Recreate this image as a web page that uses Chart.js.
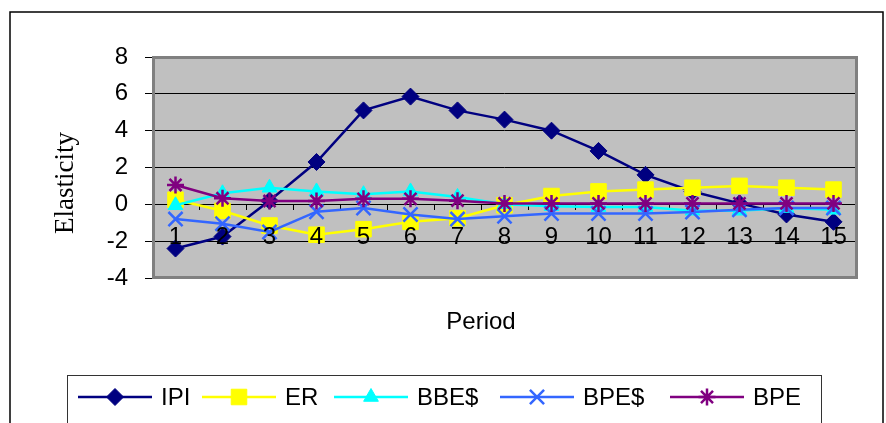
<!DOCTYPE html>
<html lang="en">
<head>
  <meta charset="UTF-8" />
  <title>Elasticity by Period</title>
  <script src="https://cdn.jsdelivr.net/npm/chart.js"></script>
  <style>
    html, body {
      margin: 0;
      padding: 0;
      background: #fff;
    }
    #wrap {
      width: 886px;
      height: 423px;
    }
  </style>
</head>
<body>
  <div id="wrap"><canvas id="elasticityChart" width="886" height="423"></canvas></div>

  <script>
    // values
    const periods = ['1', '2', '3', '4', '5', '6', '7', '8', '9', '10', '11', '12', '13', '14', '15'];
    const ipi = [-2.4, -1.75, 0.2, 2.3, 5.1, 5.85, 5.1, 4.6, 4.0, 2.9, 1.6, 0.7, 0.05, -0.55, -0.95];
    const er = [0.25, -0.35, -1.15, -1.65, -1.35, -0.95, -0.75, -0.05, 0.45, 0.7, 0.8, 0.9, 1.0, 0.9, 0.8];
    const bbeUsd = [-0.05, 0.6, 0.9, 0.7, 0.55, 0.7, 0.4, 0.0, -0.1, -0.15, -0.15, -0.35, -0.35, -0.2, -0.3];
    const bpeUsd = [-0.8, -1.05, -1.5, -0.4, -0.2, -0.55, -0.8, -0.65, -0.5, -0.5, -0.5, -0.42, -0.3, -0.2, -0.2];
    const bpe = [1.05, 0.33, 0.18, 0.18, 0.3, 0.3, 0.2, 0.05, 0.05, 0.05, 0.05, 0.05, 0.05, 0.05, 0.05];
    const yTitle = 'Elasticity';
    const xTitle = 'Period';

    const FONT = 'Arial, "Liberation Sans", sans-serif';

    function series(label, data, color, style, radius, order) {
      return {
        label: label,
        data: data,
        borderColor: color,
        backgroundColor: color,
        borderWidth: 2.5,
        pointStyle: style,
        pointRadius: radius,
        pointHoverRadius: radius,
        pointBorderColor: color,
        pointBackgroundColor: color,
        pointBorderWidth: (style === 'crossRot' || style === 'star') ? 2.5 : 1,
        tension: 0,
        fill: false,
        order: order
      };
    }

    // frame, grey plot area, titles and the Excel-like legend box
    const excelLook = {
      id: 'excelLook',
      beforeDraw(chart) {
        const { ctx, chartArea: a } = chart;
        ctx.save();
        ctx.fillStyle = '#fff';
        ctx.fillRect(0, 0, chart.width, chart.height);
        ctx.strokeStyle = '#000';
        ctx.lineWidth = 1.5;
        ctx.strokeRect(10, 12, 873, 440);
        ctx.fillStyle = '#c0c0c0';
        ctx.fillRect(a.left, a.top, a.right - a.left, a.bottom - a.top);
        ctx.restore();
      },
      beforeDatasetsDraw(chart) {
        const { ctx, chartArea: a } = chart;
        ctx.save();
        ctx.strokeStyle = '#808080';
        ctx.lineWidth = 3;
        ctx.strokeRect(a.left + 1.5, a.top + 0.5, a.right - a.left - 2, a.bottom - a.top - 1);
        ctx.restore();
      },
      afterDraw(chart) {
        const { ctx } = chart;
        ctx.save();
        ctx.fillStyle = '#000';
        // y title
        ctx.font = '27px "Liberation Serif", "Times New Roman", serif';
        ctx.textAlign = 'center';
        ctx.textBaseline = 'middle';
        ctx.translate(66, 183);
        ctx.rotate(-Math.PI / 2);
        ctx.fillText(yTitle, 0, 0);
        ctx.restore();

        ctx.save();
        ctx.fillStyle = '#000';
        ctx.font = '24px ' + FONT;
        ctx.textAlign = 'center';
        ctx.textBaseline = 'middle';
        ctx.fillText(xTitle, 481, 322);

        // legend
        ctx.strokeStyle = '#333';
        ctx.lineWidth = 1;
        ctx.strokeRect(67.5, 375.5, 754, 60);
        const starts = [78, 202, 334, 500, 670];
        const ly = 397;
        chart.data.datasets.forEach((ds, i) => {
          const x0 = starts[i];
          ctx.strokeStyle = ds.borderColor;
          ctx.lineWidth = ds.borderWidth;
          ctx.beginPath();
          ctx.moveTo(x0, ly);
          ctx.lineTo(x0 + 74, ly);
          ctx.stroke();
          ctx.fillStyle = ds.pointBackgroundColor;
          ctx.strokeStyle = ds.pointBorderColor;
          ctx.lineWidth = ds.pointBorderWidth;
          Chart.helpers.drawPoint(ctx, {
            pointStyle: ds.pointStyle,
            radius: ds.pointRadius,
            borderWidth: ds.pointBorderWidth,
            rotation: 0
          }, x0 + 37, ly);
          ctx.fillStyle = '#000';
          ctx.textAlign = 'left';
          ctx.fillText(ds.label, x0 + 83, ly + 1);
        });
        ctx.restore();
      }
    };

    const ctx = document.getElementById('elasticityChart').getContext('2d');
    new Chart(ctx, {
      type: 'line',
      data: {
        labels: periods,
        datasets: [
          series('IPI', ipi, '#000080', 'rectRot', 8.5, 5),
          series('ER', er, '#ffff00', 'rect', 11, 4),
          series('BBE$', bbeUsd, '#00ffff', 'triangle', 8.5, 3),
          series('BPE$', bpeUsd, '#3366ff', 'crossRot', 10, 2),
          series('BPE', bpe, '#800080', 'star', 8.5, 1)
        ]
      },
      options: {
        responsive: false,
        animation: false,
        layout: {
          padding: { left: 0, top: 57, right: 29, bottom: 145 }
        },
        plugins: {
          legend: { display: false },
          tooltip: { enabled: false },
          title: { display: false }
        },
        scales: {
          x: {
            type: 'category',
            position: { y: 0 },
            offset: true,
            grid: {
              offset: true,
              drawOnChartArea: false,
              drawTicks: true,
              tickLength: 5,
              color: '#000'
            },
            border: { display: true, color: '#000', width: 1 },
            ticks: {
              z: 1,
              color: '#000',
              font: { family: FONT, size: 24 },
              padding: 14,
              maxRotation: 0,
              autoSkip: false
            }
          },
          y: {
            min: -4,
            max: 8,
            afterFit(scale) { scale.width = 152; },
            grid: {
              color: '#000',
              lineWidth: 1,
              drawTicks: true,
              tickLength: 7
            },
            border: { display: false },
            ticks: {
              stepSize: 2,
              color: '#000',
              font: { family: FONT, size: 24 },
              padding: 17
            }
          }
        }
      },
      plugins: [excelLook]
    });
  </script>
</body>
</html>
